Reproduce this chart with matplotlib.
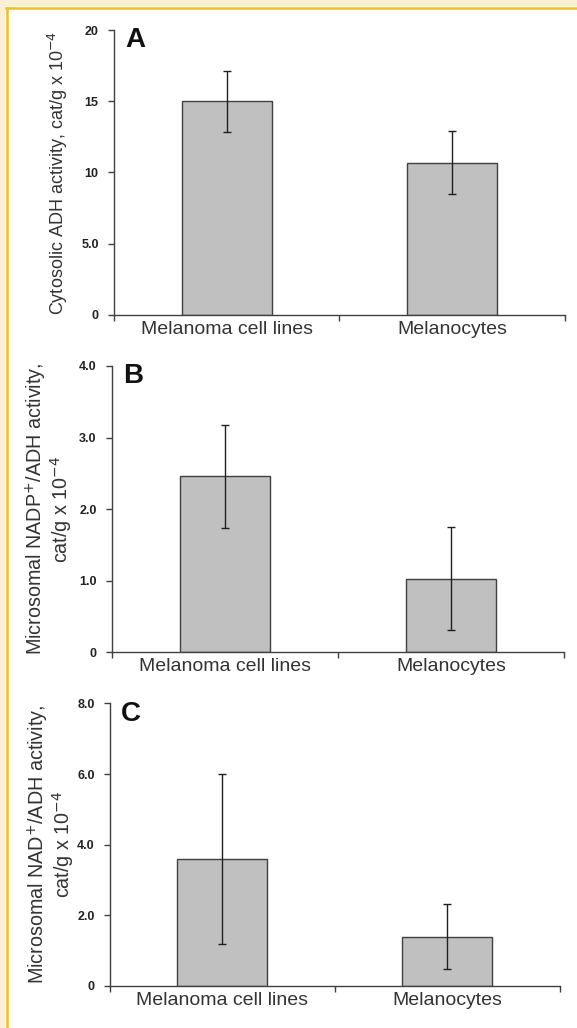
import matplotlib
matplotlib.use("Agg")
import matplotlib.pyplot as plt
from matplotlib.patches import Rectangle
from matplotlib.lines import Line2D

plt.rcParams['font.family'] = ['Liberation Sans', 'DejaVu Sans']

categories = ["Melanoma cell lines", "Melanocytes"]

a_values = [15.0, 10.7]
a_errors = [2.15, 2.2]
b_values = [2.46, 1.03]
b_errors = [0.72, 0.72]
c_values = [3.6, 1.4]
c_errors = [2.4, 0.92]

a_ticks = [0, 5, 10, 15, 20]
a_ticklabels = ["0", "5.0", "10", "15", "20"]
b_ticks = [0, 1, 2, 3, 4]
b_ticklabels = ["0", "1.0", "2.0", "3.0", "4.0"]
c_ticks = [0, 2, 4, 6, 8]
c_ticklabels = ["0", "2.0", "4.0", "6.0", "8.0"]

panels = [
    ("A", a_values, a_errors, a_ticks, a_ticklabels,
     "Cytosolic ADH activity, cat/g x 10$^{-4}$",
     [0.1976, 0.6936, 0.7814, 0.2772], -0.097, 13),
    ("B", b_values, b_errors, b_ticks, b_ticklabels,
     "Microsomal NADP$^{+}$/ADH activity,\ncat/g x 10$^{-4}$",
     [0.1941, 0.3655, 0.7834, 0.2785], -0.084, 14.2),
    ("C", c_values, c_errors, c_ticks, c_ticklabels,
     "Microsomal NAD$^{+}$/ADH activity,\ncat/g x 10$^{-4}$",
     [0.1906, 0.0409, 0.7799, 0.2749], -0.076, 14.2),
]

W, H = 577, 1028
fig = plt.figure(figsize=(W / 100, H / 100), dpi=100)
fig.patch.set_facecolor("white")

# decorative frame (cream strip + orange line on top and left)
cream = "#FCEFD4"
orange = "#F2BE22"
fig.patches.append(Rectangle((0, 1 - 6 / H), 1, 6 / H, transform=fig.transFigure,
                             facecolor=cream, edgecolor="none", zorder=0))
fig.patches.append(Rectangle((0, 0), 5 / W, 1, transform=fig.transFigure,
                             facecolor=cream, edgecolor="none", zorder=0))
fig.lines.append(Line2D([6 / W, 1], [1 - 7.5 / H, 1 - 7.5 / H], transform=fig.transFigure,
                        color=orange, lw=1.8))
fig.lines.append(Line2D([6.5 / W, 6.5 / W], [0, 1 - 7.5 / H], transform=fig.transFigure,
                        color=orange, lw=1.8))

axis_color = "#404040"
for letter, vals, errs, ticks, tlabels, ylabel, rect, lx, lfs in panels:
    ax = fig.add_axes(rect)
    x = list(range(len(categories)))
    ax.bar(x, vals, width=0.4, color="#C0C0C0", edgecolor=axis_color, linewidth=1.0,
           yerr=errs, capsize=3,
           error_kw=dict(ecolor="#202020", elinewidth=1.0, capthick=1.0))
    ax.set_xlim(-0.5, 1.5)
    ax.set_ylim(ticks[0], ticks[-1])
    ax.set_yticks(ticks)
    ax.set_yticklabels(tlabels, fontsize=9, fontweight="bold", color="#222222")
    ax.set_xticks(x)
    ax.set_xticklabels(categories, fontsize=14, color="#333333")
    ax.set_xticks([-0.5, 0.5, 1.5], minor=True)
    ax.tick_params(axis="x", which="major", length=0, pad=4)
    ax.tick_params(axis="x", which="minor", length=4, width=1.0, color=axis_color, direction="out")
    ax.tick_params(axis="y", length=4, width=1.0, color=axis_color, direction="out", pad=7)
    for s in ("top", "right"):
        ax.spines[s].set_visible(False)
    for s in ("left", "bottom"):
        ax.spines[s].set_color(axis_color)
        ax.spines[s].set_linewidth(1.0)
    ax.set_ylabel(ylabel, fontsize=lfs, color="#333333", linespacing=0.95)
    ax.yaxis.set_label_coords(lx, 0.5)
    ax.text(0.025, 1.01, letter, transform=ax.transAxes, fontsize=20, fontweight="bold",
            ha="left", va="top", color="#111111")

fig.savefig("out.png", dpi=100, facecolor=fig.get_facecolor())
